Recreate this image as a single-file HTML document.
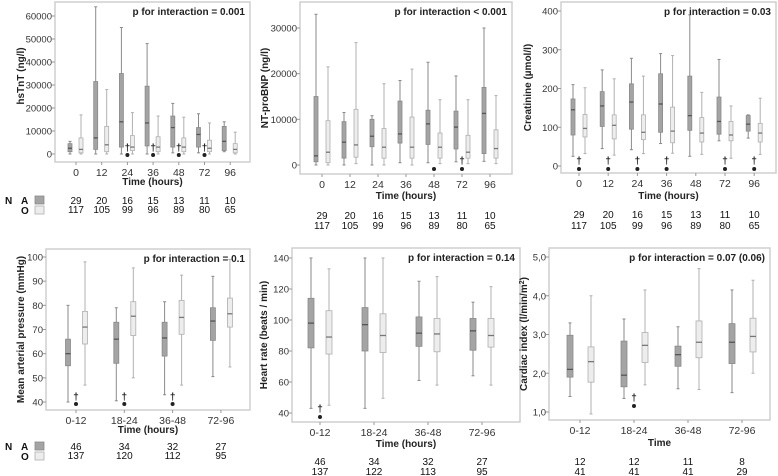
<!DOCTYPE html>
<html><head><meta charset="utf-8">
<style>
html,body{margin:0;padding:0;background:#fff;}
svg{display:block;font-family:"Liberation Sans",sans-serif;}
</style></head>
<body>
<svg id="fig" width="778" height="476" viewBox="0 0 778 476" xmlns="http://www.w3.org/2000/svg"></svg>
<script>
// ---- data ----
const hoursCats = ["0","12","24","36","48","72","96"];
const groupCats = ["0-12","18-24","36-48","72-96"];

const tntA = [[0,1000,2500,4500,5500],[0,2000,7000,31500,64000],[0,3000,14000,35000,55000],[0,3500,13500,29500,48000],[500,3000,11500,16500,22000],[500,3000,8500,11500,17500],[1000,1500,5500,12000,14000]];
const tntO = [[0,500,2000,7000,17000],[0,1000,4000,12000,28000],[0,1500,3000,8000,18000],[0,1000,3000,7500,16500],[0,1000,3000,7000,16000],[0,1000,2500,6000,13500],[0,500,2000,4500,9500]];
const tntTicks = [0,10000,20000,30000,40000,50000,60000];

const bnpA = [[0,700,2000,15000,33000],[0,1500,5000,9500,11500],[0,4000,6300,10000,10800],[500,4800,6800,14000,18500],[500,4500,9000,12000,22500],[700,3500,8300,11800,19500],[800,2500,11300,17000,30000]];
const bnpO = [[0,500,2800,9700,21500],[300,1700,4400,12200,26800],[0,1500,3900,8000,17800],[0,1500,3900,10500,21000],[300,1500,3900,7000,14300],[300,1500,2800,6500,14300],[300,1500,3600,7700,15200]];
const bnpTicks = [0,10000,20000,30000];

const creA = [[25,80,145,173,210],[45,102,155,192,248],[42,95,165,212,278],[58,87,160,238,290],[25,92,130,232,390],[65,82,115,178,275],[72,90,108,130,132]];
const creO = [[32,75,97,133,202],[28,70,105,132,225],[32,68,87,132,232],[33,60,90,152,285],[30,62,85,125,190],[20,65,80,115,155],[30,62,85,110,175]];
const creTicks = [0,100,200,300,400];

const mapA = [[40,55,60,66,80],[40.5,56,66,73,79],[43,59,66.5,73,81.5],[50.5,65.5,73.5,79,92]];
const mapO = [[47,64,71,77.5,98],[50,67.5,75.5,81.5,95.5],[47,68,75,82,92.5],[54.5,71,76.5,83,99]];
const mapTicks = [40,50,60,70,80,90,100];

const hrA = [[43,82,98,114,140],[43,80,97,108,140],[61,83,91.5,102,125],[64,80.5,93,101,111.5]];
const hrO = [[45,78,89,106,133],[49.5,79,90,104,140],[58,79.5,91,101,128],[58,82.5,90,101,121.5]];
const hrTicks = [40,60,80,100,120,140];

const ciA = [[1.4,1.9,2.1,2.98,3.3],[1.35,1.65,1.95,2.83,3.4],[1.6,2.18,2.48,2.7,3.2],[1.5,2.25,2.8,3.28,4.15]];
const ciO = [[0.95,1.77,2.3,2.68,4.0],[1.7,2.28,2.72,3.05,4.15],[1.58,2.4,2.8,3.35,4.7],[2.0,2.55,2.95,3.42,4.4]];
const ciTicks = [1,2,3,4,5];

const nA7 = ["29","20","16","15","13","11","10"];
const nO7 = ["117","105","99","96","89","80","65"];
const nA4 = ["46","34","32","27"];
const nO4a = ["137","120","112","95"];
const nO4b = ["137","122","113","95"];
const nAci = ["12","12","11","8"];
const nOci = ["41","41","41","29"];

const tntMarks = [0,0,1,1,1,1,0];
const bnpMarks = [0,0,0,0,2,1,0];
const creMarks = [1,1,1,1,0,1,1];
const mapMarks = [1,1,1,0];
const hrMarks = [1,0,0,0];
const ciMarks = [0,1,0,0];

// ---- drawing ----
const NS="http://www.w3.org/2000/svg";
const svg=document.getElementById('fig');
function mk(tag,attrs,parent,text){const e=document.createElementNS(NS,tag);for(const k in attrs)e.setAttribute(k,attrs[k]);if(text!==undefined)e.textContent=text;(parent||svg).appendChild(e);return e;}

function panel(c){
  const g=mk('g',{});
  
  
  const fr=mk('rect',{x:c.x0,y:c.y0,width:c.x1-c.x0,height:c.y1-c.y0,fill:'none',stroke:'#cfcfcf','stroke-width':1.5},g);
  
  
  const ys=v=>c.pyb+(v-c.vmin)/(c.vmax-c.vmin)*(c.pyt-c.pyb);
  const xs=i=>c.cx0+i*c.step;
  c.ticks.forEach(t=>{
    const y=ys(t);
    mk('line',{x1:c.x0-3,x2:c.x0,y1:y,y2:y,stroke:'#999'},g);
    const tl=mk('text',{x:c.x0-3,y:y+3.5,'text-anchor':'end','font-size':9.5,fill:'#333'},g,c.fmt?c.fmt(t):String(t));
    
    
  });
  c.cats.forEach((cat,i)=>{
    const x=xs(i);
    mk('line',{x1:x,x2:x,y1:c.y1,y2:c.y1+3,stroke:'#999'},g);
    const tl=mk('text',{x:x,y:c.y1+14,'text-anchor':'middle','font-size':10.5,fill:'#333'},g,cat);
    
    
    [[c.A,c.offA,'#a4a4a4','#8a8a8a','#555'],[c.O,c.offO,'#ededed','#b0b0b0','#777']].forEach(([arr,off,fill,st,med],k)=>{
      const d=arr[i];const bx=x+off;const w=c.bw;
      mk('line',{x1:bx,x2:bx,y1:ys(d[0]),y2:ys(d[4]),stroke:st,'stroke-width':1},g);
      mk('line',{x1:bx-1.5,x2:bx+1.5,y1:ys(d[0]),y2:ys(d[0]),stroke:st},g);
      mk('line',{x1:bx-1.5,x2:bx+1.5,y1:ys(d[4]),y2:ys(d[4]),stroke:st},g);
      const b=mk('rect',{x:bx-w/2,y:ys(d[3]),width:w,height:Math.max(1,ys(d[1])-ys(d[3])),fill:fill,stroke:st,'stroke-width':0.8},g);
      
      
      mk('line',{x1:bx-w/2,x2:bx+w/2,y1:ys(d[2]),y2:ys(d[2]),stroke:med,'stroke-width':1.3},g);
    });
    const m=c.marks[i];
    if(m>0){
      const st=mk('circle',{cx:x,cy:c.starY,r:2,fill:'#222'},g);
      
      
      if(m===1){
        const dg=mk('text',{x:x,y:c.dagY+4,'text-anchor':'middle','font-size':10,'font-weight':'bold',fill:'#222'},g,'†');
        
        
      }
    }
    const na=mk('text',{x:x,y:c.nY1+4,'text-anchor':'middle','font-size':10,fill:'#111'},g,c.nA[i]);
    
    
    const no=mk('text',{x:x,y:c.nY2+4,'text-anchor':'middle','font-size':10,fill:'#111'},g,c.nO[i]);
    
    
  });
  const pt=mk('text',{x:c.x1-5,y:c.y0+13,'text-anchor':'end','font-size':10,'font-weight':'bold',fill:'#222'},g,c.p);
  
  
  const xt=mk('text',{x:(c.x0+c.x1)/2,y:c.xtY+4,'text-anchor':'middle','font-size':10,'font-weight':'bold',fill:'#222'},g,c.xt);
  
  
  const ym=c.ytY||(c.y0+c.y1)/2;
  const yt=mk('text',{x:c.ytX,y:ym,'text-anchor':'middle','font-size':10,'font-weight':'bold',fill:'#222',transform:`rotate(-90 ${c.ytX} ${ym})`},g);
  
  
  if(c.sup){yt.textContent=c.yt;mk('tspan',{'baseline-shift':'super','font-size':7},yt,'2');mk('tspan',{},yt,')');}
  else yt.textContent=c.yt;
  if(c.legend){
    const L=mk('g',{},g);
    
    
    mk('text',{x:5,y:c.nY1+4,'font-size':10,'font-weight':'bold',fill:'#111'},L,'N');
    mk('text',{x:21,y:c.nY1+4,'font-size':10,'font-weight':'bold',fill:'#111'},L,'A');
    mk('text',{x:21,y:c.nY2+5,'font-size':10,'font-weight':'bold',fill:'#111'},L,'O');
    const sa=mk('rect',{x:35,y:c.nY1-4,width:9,height:8,fill:'#a4a4a4',stroke:'#8a8a8a','stroke-width':0.8},L);
    
    
    const so=mk('rect',{x:35,y:c.nY2-3,width:9,height:8,fill:'#ededed',stroke:'#b0b0b0','stroke-width':0.8},L);
    
    
  }
}

const comma=v=>v.toFixed(1).replace('.',',');

panel({name:'hstnt-panel',x0:55,x1:250,y0:2,y1:162,pyt:16,pyb:154,vmin:0,vmax:60000,ticks:tntTicks,cats:hoursCats,cx0:76,step:25.7,offA:-6,offO:5,bw:4,A:tntA,O:tntO,marks:tntMarks,dagY:147,starY:155,nA:nA7,nO:nO7,nY1:200,nY2:209,p:'p for interaction = 0.001',xt:'Time (hours)',xtY:181,ytX:24,ytY:76,yt:'hsTnT (ng/l)',legend:true});
panel({name:'ntprobnp-panel',x0:300,x1:512,y0:2,y1:174,pyt:28,pyb:165,vmin:0,vmax:30000,ticks:bnpTicks,cats:hoursCats,cx0:322,step:28,offA:-6,offO:6,bw:4,A:bnpA,O:bnpO,marks:bnpMarks,dagY:160,starY:169,nA:nA7,nO:nO7,nY1:215,nY2:225,p:'p for interaction < 0.001',xt:'Time (hours)',xtY:195,ytX:268,yt:'NT-proBNP (ng/l)'});
panel({name:'creatinine-panel',x0:561,x1:776,y0:2,y1:173,pyt:11,pyb:166,vmin:0,vmax:400,ticks:creTicks,cats:hoursCats,cx0:579,step:29.2,offA:-6,offO:6,bw:4,A:creA,O:creO,marks:creMarks,dagY:160,starY:169,nA:nA7,nO:nO7,nY1:214,nY2:225,p:'p for interaction = 0.03',xt:'Time (hours)',xtY:195,ytX:531,yt:'Creatinine (µmol/l)'});
panel({name:'map-panel',x0:46,x1:250,y0:249,y1:410,pyt:257,pyb:402,vmin:40,vmax:100,ticks:mapTicks,cats:groupCats,cx0:76,step:48.3,offA:-8,offO:9,bw:5,A:mapA,O:mapO,marks:mapMarks,dagY:396,starY:404,nA:nA4,nO:nO4a,nY1:446,nY2:455,p:'p for interaction = 0.1',xt:'Time (hours)',xtY:429,ytX:24,yt:'Mean arterial pressure (mmHg)',legend:true});
panel({name:'heart-rate-panel',x0:292,x1:520,y0:248,y1:422,pyt:258,pyb:413,vmin:40,vmax:140,ticks:hrTicks,cats:groupCats,cx0:320,step:54,offA:-9,offO:9,bw:6,A:hrA,O:hrO,marks:hrMarks,dagY:408,starY:417,nA:nA4,nO:nO4b,nY1:461,nY2:471,p:'p for interaction = 0.14',xt:'Time (hours)',xtY:443,ytX:267,yt:'Heart rate (beats / min)'});
panel({name:'cardiac-index-panel',x0:549,x1:770,y0:248,y1:420,pyt:257,pyb:412,vmin:1,vmax:5,ticks:ciTicks,fmt:comma,cats:groupCats,cx0:580,step:54,offA:-10,offO:11,bw:6,A:ciA,O:ciO,marks:ciMarks,dagY:397,starY:406,nA:nAci,nO:nOci,nY1:461,nY2:471,p:'p for interaction = 0.07 (0.06)',xt:'Time',xtY:442,ytX:527,yt:'Cardiac index (l/min/m',sup:true});
</script>
</body></html>
